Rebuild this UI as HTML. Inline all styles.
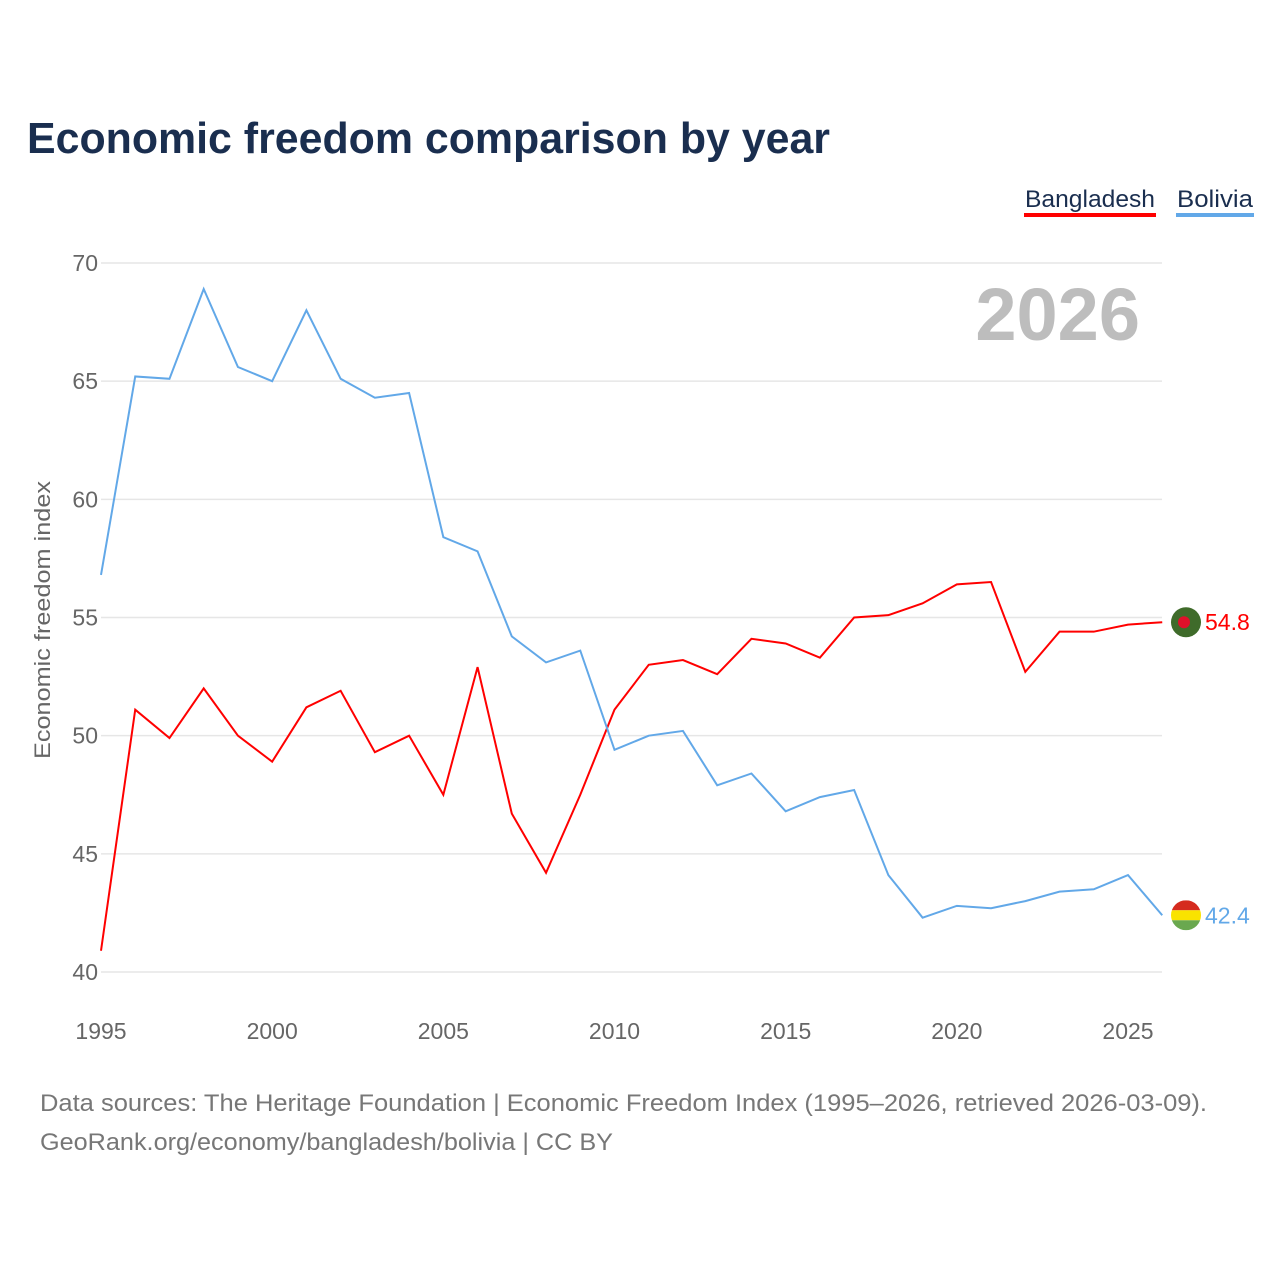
<!DOCTYPE html>
<html><head><meta charset="utf-8"><style>
body{margin:0;background:#fff;width:1280px;height:1280px;overflow:hidden;font-family:"Liberation Sans",sans-serif}
</style></head><body>
<svg id="chart" width="1280" height="1280" style="position:absolute;left:0;top:0">
<text x="27" y="153" font-size="44" font-weight="bold" fill="#1a2e4f" textLength="803" lengthAdjust="spacingAndGlyphs">Economic freedom comparison by year</text>
<g>
<text x="1025" y="207" font-size="24" fill="#1a2e4f" textLength="130" lengthAdjust="spacingAndGlyphs">Bangladesh</text>
<rect x="1024" y="213" width="132" height="4" fill="#ff0000"/>
<text x="1177" y="207" font-size="24" fill="#1a2e4f" textLength="76" lengthAdjust="spacingAndGlyphs">Bolivia</text>
<rect x="1176" y="213" width="78" height="4" fill="#62a8e8"/>
</g>
<text x="1140" y="340" font-size="74" font-weight="bold" fill="#bdbdbd" text-anchor="end">2026</text>
<g id="grid"></g><g id="axes"></g><g id="series"></g>
<text transform="translate(50,620) rotate(-90)" font-size="22" fill="#666" text-anchor="middle" textLength="278" lengthAdjust="spacingAndGlyphs">Economic freedom index</text>
<text x="40" y="1111" font-size="24" fill="#777" textLength="1167" lengthAdjust="spacingAndGlyphs">Data sources: The Heritage Foundation | Economic Freedom Index (1995–2026, retrieved 2026-03-09).</text>
<text x="40" y="1150" font-size="24" fill="#777" textLength="573" lengthAdjust="spacingAndGlyphs">GeoRank.org/economy/bangladesh/bolivia | CC BY</text>
</svg>
<script>
const years=[1995,1996,1997,1998,1999,2000,2001,2002,2003,2004,2005,2006,2007,2008,2009,2010,2011,2012,2013,2014,2015,2016,2017,2018,2019,2020,2021,2022,2023,2024,2025,2026];
const bangladesh=[40.9,51.1,49.9,52.0,50.0,48.9,51.2,51.9,49.3,50.0,47.5,52.9,46.7,44.2,47.5,51.1,53.0,53.2,52.6,54.1,53.9,53.3,55.0,55.1,55.6,56.4,56.5,52.7,54.4,54.4,54.7,54.8];
const bolivia=[56.8,65.2,65.1,68.9,65.6,65.0,68.0,65.1,64.3,64.5,58.4,57.8,54.2,53.1,53.6,49.4,50.0,50.2,47.9,48.4,46.8,47.4,47.7,44.1,42.3,42.8,42.7,43.0,43.4,43.5,44.1,42.4];
const yTicks=[40,45,50,55,60,65,70];
const xTicks=[1995,2000,2005,2010,2015,2020,2025];
const NS="http://www.w3.org/2000/svg";
const X=y=>101+(y-1995)*(1128-101)/30;
const Y=v=>972-(v-40)*(972-263)/30;
function mk(tag,attrs,parent,text){const e=document.createElementNS(NS,tag);for(const k in attrs)e.setAttribute(k,attrs[k]);if(text!=null)e.textContent=text;document.getElementById(parent).appendChild(e);return e;}
yTicks.forEach(t=>{
 const l=mk('line',{x1:101,x2:1162,y1:Y(t),y2:Y(t),stroke:'#e6e6e6','stroke-width':1.5},'grid');
 
 
 const tx=mk('text',{x:98,y:Y(t)+8,'font-size':23,fill:'#666','text-anchor':'end'},'axes',t);
 
 
});
xTicks.forEach(t=>{
 const tx=mk('text',{x:X(t),y:1039,'font-size':23,fill:'#666','text-anchor':'middle'},'axes',t);
 
 
});
function series(vals,color,name){
 const p=mk('polyline',{points:vals.map((v,i)=>X(years[i])+','+Y(v)).join(' '),fill:'none',stroke:color,'stroke-width':2},'series');
 
 
 const last=vals[vals.length-1];
 const lbl=mk('text',{x:1205,y:Y(last)+8,'font-size':23,fill:color},'series',last.toFixed(1));
 
 
}
series(bangladesh,'#ff0000','bangladesh');
series(bolivia,'#62a8e8','bolivia');
const yb=Y(bangladesh[bangladesh.length-1]);
const f1=mk('circle',{cx:1186,cy:yb,r:15,fill:'#3f6b2a'},'series');


mk('circle',{cx:1184,cy:yb,r:6,fill:'#e0102a'},'series');
const yv=Y(bolivia[bolivia.length-1]);
const g=mk('g',{},'series');


const cp=mk('clipPath',{id:'bc'},'series');
const cc=document.createElementNS(NS,'circle');cc.setAttribute('cx',1186);cc.setAttribute('cy',yv);cc.setAttribute('r',15);cp.appendChild(cc);
[['#d52b1e',-15],['#f9e300',-5],['#6aa84f',5]].forEach(([c,o])=>{const r=document.createElementNS(NS,'rect');r.setAttribute('x',1171);r.setAttribute('y',yv+o);r.setAttribute('width',30);r.setAttribute('height',10);r.setAttribute('fill',c);r.setAttribute('clip-path','url(#bc)');g.appendChild(r);});
</script>
</body></html>
